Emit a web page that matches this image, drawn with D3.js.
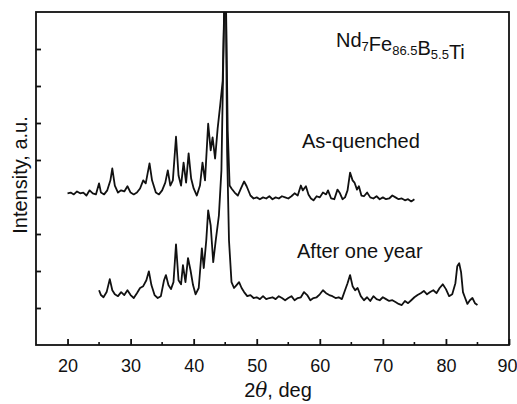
<!DOCTYPE html>
<html lang="en">
  <head>
    <title>XRD patterns</title>
    <script src="https://d3js.org/d3.v7.min.js"></script>
    <style>
      body { margin: 0; background: #fff; }
      svg { font-family: "Liberation Sans", Arial, sans-serif; }
      .curve { fill: none; stroke: #111; stroke-width: 1.8; stroke-linejoin: round; }
      .axis path, .axis line { stroke: #111; stroke-width: 1.8; }
      .axis text { font-size: 18px; fill: #111; }
    </style>
  </head>
  <body>
    <svg width="517" height="404"></svg>

    <script>
      // two theta (deg) and intensity (a.u.)
      var quenchedTheta = [20.0, 20.5, 21, 21.5, 22, 22.5, 23, 23.5, 24, 24.5, 25, 25.3, 25.8, 26.3, 26.8, 27.1, 27.5, 28, 28.5, 29,
        29.5, 30, 30.5, 31, 31.5, 32, 32.4, 33, 33.4, 34, 34.5, 35, 35.5, 35.9, 36.3, 36.7, 37.2, 37.6, 38, 38.4,
        38.8, 39.2, 39.6, 40, 40.5, 41, 41.4, 41.8, 42.3, 42.7, 43, 43.4, 43.8, 44.2, 44.6, 44.9, 45.1, 45.4, 45.7, 46,
        46.5, 47, 47.5, 48, 48.4, 49, 49.5, 50, 50.5, 51, 51.5, 52, 52.5, 53, 53.5, 54, 54.5, 55, 55.5, 56,
        56.5, 57, 57.3, 57.8, 58.2, 58.6, 59, 59.5, 60, 60.5, 61, 61.3, 61.8, 62.3, 62.8, 63.2, 63.6, 64, 64.4, 64.8,
        65.2, 65.5, 65.9, 66.2, 66.6, 67, 67.5, 68, 68.5, 69, 69.5, 70, 70.5, 71, 71.5, 72, 72.5, 73, 73.5, 74,
        74.5, 75];
      var quenchedI = [4.10, 4.12, 4.07, 4.15, 4.10, 4.12, 4.04, 4.18, 4.10, 4.07, 4.37, 4.12, 4.07, 4.18, 4.45, 4.77, 4.31, 4.12, 4.18, 4.15,
        4.29, 4.12, 4.07, 4.12, 4.23, 4.45, 4.37, 4.91, 4.45, 4.12, 4.07, 4.18, 4.39, 4.72, 4.31, 4.45, 5.63, 4.58, 4.31, 4.93,
        4.39, 5.18, 4.50, 4.23, 4.04, 4.31, 4.93, 4.45, 5.98, 5.26, 5.61, 5.04, 5.85, 6.47, 7.14, 9.57, 9.57, 5.80, 4.31, 4.23,
        4.12, 4.04, 4.23, 4.42, 4.29, 4.04, 3.96, 3.99, 3.94, 3.99, 3.96, 4.02, 3.94, 3.99, 3.96, 4.02, 3.99, 3.96, 4.02, 4.10,
        4.04, 4.31, 4.18, 4.29, 4.07, 3.96, 3.91, 4.02, 3.99, 4.12, 4.07, 4.18, 3.96, 3.94, 4.20, 4.10, 3.94, 3.99, 4.18, 4.66,
        4.45, 4.39, 4.20, 4.29, 4.04, 4.02, 4.12, 3.99, 3.96, 4.02, 3.94, 3.99, 3.94, 3.96, 4.04, 3.99, 3.94, 3.96, 3.91, 3.94,
        3.88, 3.94];

      var agedTheta = [25.0, 25.3, 25.7, 26.2, 26.7, 27.1, 27.5, 28, 28.5, 29, 29.5, 30, 30.5, 31, 31.5, 32, 32.5, 32.9, 33.3, 33.8,
        34.3, 34.8, 35.3, 35.6, 36, 36.4, 36.8, 37.2, 37.6, 38, 38.3, 38.7, 39.1, 39.5, 39.9, 40.3, 40.8, 41.3, 41.6, 42,
        42.3, 42.7, 43.1, 43.5, 44, 44.4, 44.7, 44.9, 45.1, 45.3, 45.6, 46, 46.4, 46.8, 47.2, 47.6, 48, 48.5, 49, 49.5,
        50, 50.5, 51, 51.5, 52, 52.5, 53, 53.5, 54, 54.5, 55, 55.5, 56, 56.5, 57, 57.5, 58, 58.5, 59, 59.5,
        60, 60.5, 61, 61.5, 62, 62.5, 63, 63.5, 64, 64.4, 64.8, 65.2, 65.6, 66, 66.5, 67, 67.5, 68, 68.5, 69,
        69.5, 70, 70.5, 71, 71.5, 72, 72.5, 73, 73.5, 74, 74.5, 75, 75.5, 76, 76.5, 77, 77.5, 78, 78.5, 79,
        79.5, 80, 80.5, 81, 81.5, 81.8, 82.1, 82.4, 82.7, 83, 83.4, 83.8, 84.2, 84.6, 85];
      var agedI = [1.48, 1.35, 1.29, 1.43, 1.78, 1.48, 1.37, 1.32, 1.43, 1.35, 1.48, 1.35, 1.27, 1.40, 1.54, 1.59, 1.75, 1.99, 1.62, 1.35,
        1.27, 1.32, 1.75, 1.89, 1.62, 1.51, 1.70, 2.72, 1.75, 1.64, 2.16, 1.70, 2.35, 2.02, 1.62, 1.37, 1.54, 2.61, 2.08, 2.83,
        3.64, 3.23, 2.24, 2.83, 3.50, 4.72, 7.68, 9.57, 9.57, 5.26, 2.83, 1.70, 1.54, 1.62, 1.70, 1.54, 1.43, 1.32, 1.35, 1.27,
        1.29, 1.24, 1.32, 1.24, 1.27, 1.29, 1.24, 1.32, 1.27, 1.21, 1.27, 1.32, 1.21, 1.27, 1.29, 1.43, 1.35, 1.21, 1.27, 1.29,
        1.37, 1.48, 1.40, 1.35, 1.32, 1.27, 1.29, 1.24, 1.48, 1.67, 1.89, 1.59, 1.48, 1.54, 1.32, 1.21, 1.29, 1.19, 1.32, 1.24,
        1.21, 1.29, 1.24, 1.19, 1.21, 1.16, 1.11, 1.08, 1.19, 1.13, 1.21, 1.29, 1.35, 1.40, 1.46, 1.37, 1.43, 1.48, 1.40, 1.54,
        1.64, 1.51, 1.32, 1.37, 1.67, 2.13, 2.21, 1.97, 1.43, 1.29, 1.11, 1.21, 1.27, 1.13, 1.08];

      var xTicks = [20, 30, 40, 50, 60, 70, 80, 90];
      var xMinorTicks = [25, 35, 45, 55, 65, 75, 85];
      var yTicks = [1, 2, 3, 4, 5, 6, 7, 8];

      var svg = d3.select("svg");
      // plot box (don't call these top/left globals - window.top is read-only)
      var pL = 36, pR = 509, pT = 12, pB = 345;

      var x = d3.scaleLinear().domain([15, 90]).range([pL, pR]);
      var y = d3.scaleLinear().domain([0, 9]).range([pB, pT]);

      svg.append("defs").append("clipPath").attr("id", "plot")
         .append("rect").attr("x", pL).attr("y", pT)
         .attr("width", pR - pL).attr("height", pB - pT);

      var line = d3.line().x(function(d){return x(d[0]);}).y(function(d){return y(d[1]);});

      var series = [d3.zip(quenchedTheta, quenchedI), d3.zip(agedTheta, agedI)];
      svg.append("g").attr("clip-path", "url(#plot)")
         .selectAll("path").data(series).enter().append("path")
         .attr("class", "curve").attr("d", line);

      // frame
      svg.append("rect").attr("x", pL).attr("y", pT)
         .attr("width", pR - pL).attr("height", pB - pT)
         .attr("fill", "none").attr("stroke", "#111").attr("stroke-width", 1.8);

      // inward ticks
      var xAxis = svg.append("g").attr("class", "axis")
         .attr("transform", "translate(0," + pB + ")")
         .call(d3.axisBottom(x).tickValues(xTicks).tickSize(-6).tickPadding(14).tickSizeOuter(0));
      xAxis.select(".domain").remove();
      xAxis.selectAll("text").attr("dy", "0.71em");
      xAxis.selectAll(".tick").filter(function(d){return d === 90;})
           .select("text").attr("text-anchor", "end").attr("x", 8);

      svg.append("g").attr("transform", "translate(0," + pB + ")")
         .selectAll("line").data(xMinorTicks).enter().append("line")
         .attr("x1", function(d){return x(d);}).attr("x2", function(d){return x(d);})
         .attr("y1", 0).attr("y2", -3).attr("stroke", "#111").attr("stroke-width", 1.6);

      var yAxis = svg.append("g").attr("class", "axis")
         .attr("transform", "translate(" + pL + ",0)")
         .call(d3.axisLeft(y).tickValues(yTicks).tickSize(-5).tickFormat("").tickSizeOuter(0));
      yAxis.select(".domain").remove();

      // axis titles
      var xTitle = svg.append("text").attr("x", 278).attr("y", 397)
         .attr("text-anchor", "middle").attr("font-size", 20).attr("fill", "#111");
      xTitle.append("tspan").text("2");
      xTitle.append("tspan").attr("font-style", "italic").attr("font-family", "DejaVu Serif").text("θ");
      xTitle.append("tspan").text(", deg");

      svg.append("text").attr("transform", "translate(27,175) rotate(-90)")
         .attr("text-anchor", "middle").attr("font-size", 20).attr("fill", "#111")
         .text("Intensity, a.u.");

      // annotations
      var formula = svg.append("text").attr("x", 336).attr("y", 47)
         .attr("font-size", 20).attr("fill", "#111");
      [["Nd", false], ["7", true], ["Fe", false], ["86.5", true], ["B", false], ["5.5", true], ["Ti", false]]
        .forEach(function(p){
          formula.append("tspan").attr("font-size", p[1] ? 13 : 20)
                 .attr("dy", p[1] ? 4 : 0).text(p[0]);
          if (p[1]) formula.append("tspan").attr("dy", -4).text("");
        });

      svg.append("text").attr("x", 302).attr("y", 148).attr("font-size", 20)
         .attr("fill", "#111").text("As-quenched");
      svg.append("text").attr("x", 297).attr("y", 258).attr("font-size", 20)
         .attr("fill", "#111").text("After one year");
    </script>
  </body>
</html>
